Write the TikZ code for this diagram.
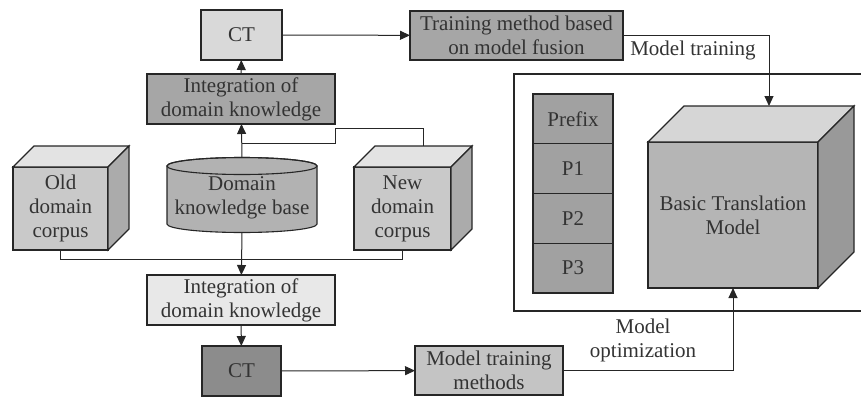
\documentclass[tikz,border=0pt]{standalone}
\usepackage{fontspec}
\setmainfont{Liberation Serif}
\usetikzlibrary{arrows.meta, positioning, calc}

\begin{document}
\begin{tikzpicture}[x=1pt, y=-1pt, >={Triangle[length=10pt,width=9pt]}, line join=miter]
	\def\cd{21}   % depth of the corpus cubes
	\def\bd{36}   % depth of the model cube
	
	\tikzset{
		line/.style={line width=1pt, black!85},
		box/.style={draw=black!85, line width=1.1pt, rectangle, outer sep=0pt, inner sep=1pt,
			align=center, font=\fontsize{21}{24}\selectfont, text=black!80},
		lbl/.style={align=center, font=\fontsize{21}{24}\selectfont, text=black!80, inner sep=1pt},
		face/.style={draw=black!85, line width=1.1pt}
	}
	
	\newcommand{\cubefaces}[4]{% node, depth, top colour, side colour
		\filldraw[face, fill=#3] (#1.north west) -- ++(#2,-#2) -- ($(#1.north east)+(#2,-#2)$) -- (#1.north east) -- cycle;
		\filldraw[face, fill=#4] (#1.north east) -- ++(#2,-#2) -- ($(#1.south east)+(#2,-#2)$) -- (#1.south east) -- cycle;
	}
	
	\useasboundingbox (0,0) rectangle (861,399);
	
	% top row
	\node[box, fill=black!15, minimum width=81pt, minimum height=50pt] (ct1) at (241.5,35) {CT};
	\node[box, fill=black!35, minimum width=188pt, minimum height=50pt] (int1) at (241,99) {Integration of\\domain knowledge};
	\node[box, fill=black!35, minimum width=213pt, minimum height=49pt] (tmf) at (516.5,35.5) {Training method based\\on model fusion};
	
	% corpora
	\node[box, fill=black!21, minimum width=95pt, minimum height=83pt] (old) at (60.5,208.5) {Old\\domain\\corpus};
	\cubefaces{old}{\cd}{black!11}{black!33}
	\node[box, fill=black!21, minimum width=97pt, minimum height=83pt] (new) at (402.5,208.5) {New\\domain\\corpus};
	\cubefaces{new}{\cd}{black!11}{black!33}
	
	% knowledge base
	\draw[face, fill=black!30] (167,166) -- (167,224)
		arc[start angle=180, end angle=360, x radius=75pt, y radius=8.5pt] -- (317,166)
		arc[start angle=0, end angle=180, x radius=75pt, y radius=8.5pt] -- cycle;
	\draw[face] (242,166) ellipse [x radius=75pt, y radius=8.5pt];
	\node[lbl] (kb) at (242,198) {Domain\\knowledge base};
	\coordinate (kbtop) at (242,157.5);
	\coordinate (kbbot) at (242,232.5);
	
	% bottom row
	\node[box, fill=black!9, minimum width=188pt, minimum height=50pt] (int2) at (241,300) {Integration of\\domain knowledge};
	\node[box, fill=black!45, minimum width=79pt, minimum height=50pt] (ct2) at (241.5,371) {CT};
	\node[box, fill=black!23, minimum width=148pt, minimum height=49pt] (mtm) at (489,370.5) {Model training\\methods};
	
	% model frame
	\draw[line, line width=1.1pt] (862,74) -- (514,74) -- (514,311) -- (862,311);
	\foreach \t [count=\i] in {Prefix,P1,P2,P3}
		\node[box, fill=black!37, minimum width=80pt, minimum height=49.75pt] (p\i) at (573,{94+49.75*(\i-0.5)}) {\t};
	\node[box, fill=black!29, minimum width=170pt, minimum height=146pt] (btm) at (733,215) {Basic Translation\\Model};
	\cubefaces{btm}{\bd}{black!16}{black!40}
	
	% connectors
	\draw[line, ->] (int1) -- (ct1);
	\draw[line, ->] (kbtop) -- (int1);
	\draw[line] (242,143) -- (335,143) -- (335,128) -| ($(new.north)+(\cd,-\cd)$);
	\draw[line] (old.south) -- ++(0,9) -| (new.south);
	\draw[line, ->] (kbbot) -- (int2);
	\draw[line, ->] (int2) -- (ct2);
	\draw[line, ->] (ct2) -- (mtm);
	\draw[line, ->] (ct1) -- (tmf);
	\draw[line, ->] (tmf.east) -| ($(btm.north)+(\bd,-\bd)$);
	\draw[line, ->] (mtm.east) -| (btm.south);
	
	\node[lbl] (lbltrain) at (693,50) {Model training};
	\node[lbl] (lblopt) at (643,340) {Model\\optimization};
\end{tikzpicture}
\end{document}
